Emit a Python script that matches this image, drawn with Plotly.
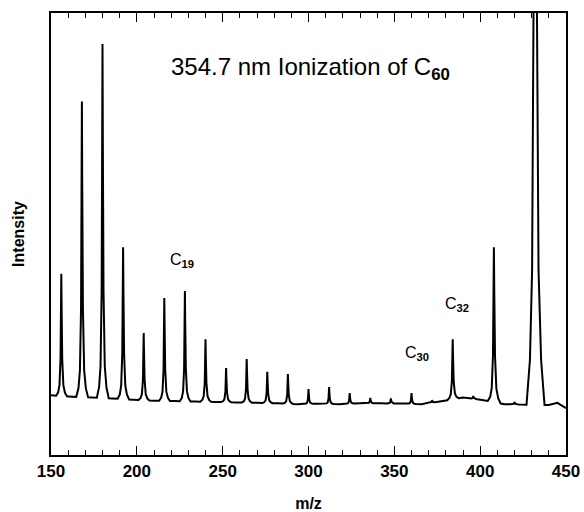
import plotly.graph_objects as go

# --- data ---
peak_mz = [156, 168, 180, 192, 204, 216, 228, 240, 252, 264, 276, 288,
           300, 312, 324, 336, 348, 360, 372, 384, 396, 408, 420, 432]
peak_h = [0.41, 0.80, 0.93, 0.47, 0.276, 0.355, 0.371, 0.262, 0.197, 0.217, 0.188, 0.183,
          0.149, 0.154, 0.140, 0.129, 0.128, 0.140, 0.124, 0.262, 0.133, 0.47, 0.120, 3.5]
peak_w = [3.0, 3.3, 3.3, 3.2, 3.0, 3.0, 3.0, 3.0, 2.8, 2.8, 2.8, 2.8,
          2.4, 2.4, 2.4, 2.4, 2.4, 2.4, 2.4, 3.2, 3.0, 3.6, 2.4, 5.0]
base_mz = [150, 162, 174, 186, 198, 210, 222, 234, 246, 258, 270, 282, 294,
           306, 318, 330, 342, 354, 366, 378, 390, 402, 414, 426, 440, 445, 450]
base_v = [0.135, 0.132, 0.130, 0.128, 0.125, 0.123, 0.122, 0.121, 0.120, 0.119, 0.118, 0.117, 0.115,
          0.116, 0.115, 0.117, 0.117, 0.116, 0.115, 0.122, 0.130, 0.124, 0.115, 0.114, 0.113, 0.118, 0.106]

labels = ["C<sub><b>19</b></sub>", "C<sub><b>30</b></sub>", "C<sub><b>32</b></sub>"]
label_x = [226.3, 363, 386.5]
label_y = [0.44, 0.23, 0.34]

# peak profile (shape only)
prof_off = [-1.0, -0.6, -0.35, -0.15, -0.05, 0.0, 0.06, 0.18, 0.4, 0.7, 1.1]
prof_frac = [0.0, 0.03, 0.09, 0.3, 0.72, 1.0, 0.72, 0.3, 0.09, 0.03, 0.0]


def base_at(m):
    for i in range(len(base_mz) - 1):
        if base_mz[i] <= m <= base_mz[i + 1]:
            t = (m - base_mz[i]) / (base_mz[i + 1] - base_mz[i])
            return base_v[i] + t * (base_v[i + 1] - base_v[i])
    return base_v[-1]


pts = []
for m, v in zip(base_mz, base_v):
    if all(abs(m - pm) > 1.1 * pw for pm, pw in zip(peak_mz, peak_w)):
        pts.append((m, v))
for m, h, w in zip(peak_mz, peak_h, peak_w):
    for o, f in zip(prof_off, prof_frac):
        x = m + o * w
        b = base_at(x)
        pts.append((x, b + f * (h - b)))
pts.sort()
xs = [p[0] for p in pts]
ys = [p[1] for p in pts]

fig = go.Figure()
fig.add_trace(go.Scatter(x=xs, y=ys, mode="lines",
                         line=dict(color="black", width=2), hoverinfo="skip"))

fig.add_annotation(x=301, y=0.875, xref="x", yref="y",
                   text="354.7 nm Ionization of C<sub><b>60</b></sub>",
                   showarrow=False,
                   font=dict(family="Liberation Sans", size=24, color="black"))
for t, lx, ly in zip(labels, label_x, label_y):
    fig.add_annotation(x=lx, y=ly, xref="x", yref="y", text=t, showarrow=False,
                       font=dict(family="Liberation Sans", size=16, color="black"))

fig.update_layout(
    width=584, height=512,
    margin=dict(l=51, r=18, t=13, b=57),
    paper_bgcolor="white", plot_bgcolor="white",
    showlegend=False,
    font=dict(family="Liberation Sans", color="black"),
)
fig.update_xaxes(range=[150, 450], tickvals=[150, 200, 250, 300, 350, 400, 450],
                 automargin=False,
                 ticks="inside", ticklen=9, tickwidth=1.3, tickcolor="black",
                 minor=dict(dtick=10, ticks="inside", ticklen=5, tickwidth=1, tickcolor="black"),
                 showline=True, linecolor="black", linewidth=1.5, mirror="allticks",
                 showgrid=False, zeroline=False,
                 tickfont=dict(family="Liberation Sans", size=17, weight="bold"),
                 title=dict(text="m/z", font=dict(family="Liberation Sans", size=16, weight="bold"),
                            standoff=22))
fig.update_yaxes(range=[0, 1], showticklabels=False, ticks="",
                 automargin=False,
                 showline=True, linecolor="black", linewidth=1.5, mirror=True,
                 showgrid=False, zeroline=False,
                 title=dict(text="Intensity", font=dict(family="Liberation Sans", size=16, weight="bold"),
                            standoff=21))

fig.write_html("out.html")
